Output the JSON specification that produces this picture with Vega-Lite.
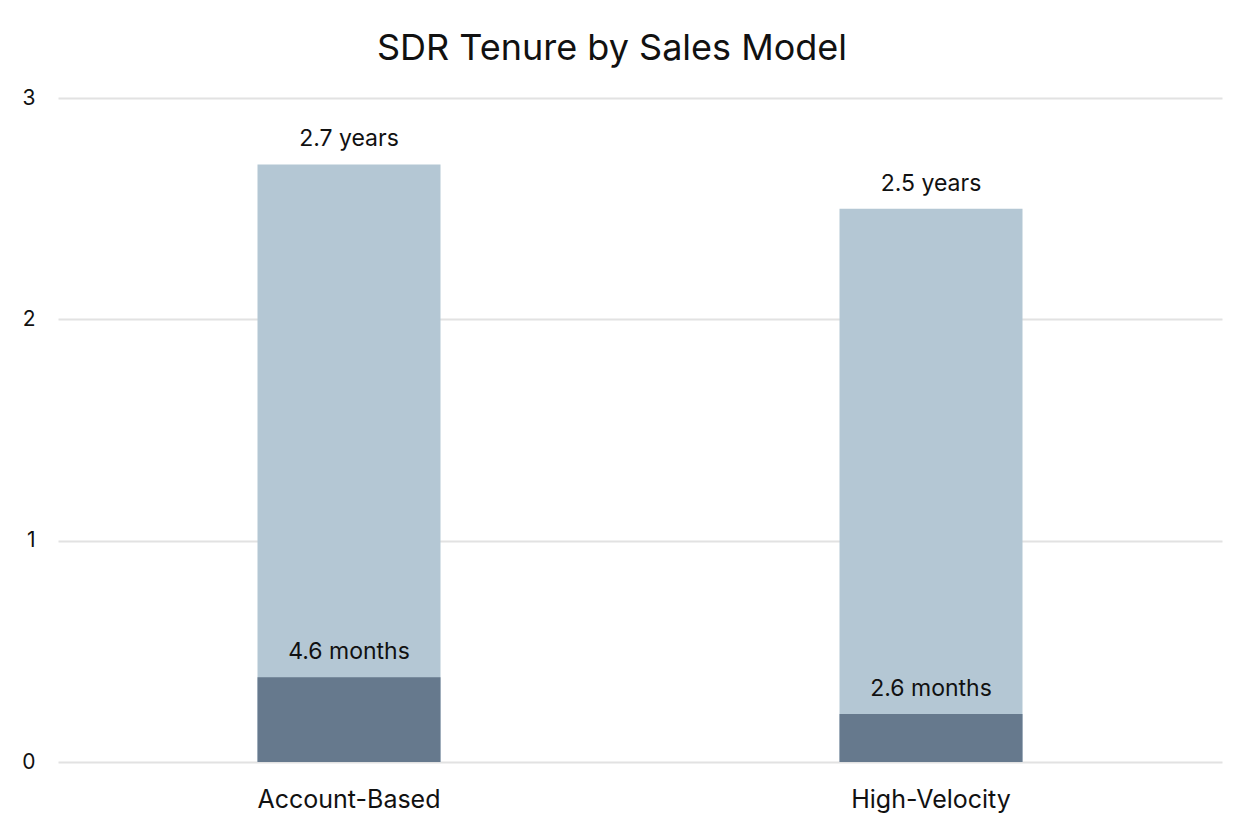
{
  "$schema": "https://vega.github.io/schema/vega-lite/v6.json",
  "autosize": {"type": "none"},
  "width": 1164,
  "height": 664,
  "padding": {"left": 58, "top": 98, "right": 28, "bottom": 68},
  "background": "white",
  "title": {
    "text": "SDR Tenure by Sales Model",
    "font": "Inter",
    "fontSize": 36,
    "fontWeight": "normal",
    "color": "#111111",
    "anchor": "middle",
    "frame": "group",
    "dx": -28,
    "offset": 19
  },
  "data": {
    "values": [
      {"model": "Account-Based", "tenure": 2.7, "tenure_label": "2.7 years", "ramp": 0.383, "ramp_label": "4.6 months"},
      {"model": "High-Velocity", "tenure": 2.5, "tenure_label": "2.5 years", "ramp": 0.217, "ramp_label": "2.6 months"}
    ]
  },
  "encoding": {
    "x": {
      "field": "model",
      "type": "nominal",
      "scale": {"paddingInner": 0, "paddingOuter": 0},
      "axis": {
        "title": null,
        "labelAngle": 0,
        "labelFont": "Inter",
        "labelFontSize": 25,
        "labelColor": "#111111",
        "labelPadding": 25,
        "labelLimit": 0,
        "domain": false,
        "ticks": false,
        "grid": false
      }
    }
  },
  "layer": [
    {
      "mark": {"type": "bar", "size": 183, "color": "#b4c7d4"},
      "encoding": {
        "y": {
          "field": "tenure",
          "type": "quantitative",
          "scale": {"domain": [0, 3]},
          "axis": {
            "title": null,
            "values": [0, 1, 2, 3],
            "format": "d",
            "labelFont": "Inter",
            "labelFontSize": 21,
            "labelColor": "#111111",
            "labelPadding": 23,
            "labelAlign": "right",
            "domain": false,
            "ticks": false,
            "grid": true,
            "gridColor": "#e2e2e2",
            "gridWidth": 2
          }
        }
      }
    },
    {
      "mark": {"type": "bar", "size": 183, "color": "#66798d"},
      "encoding": {"y": {"field": "ramp", "type": "quantitative"}}
    },
    {
      "mark": {"type": "text", "font": "Inter", "fontSize": 23, "color": "#111111", "baseline": "alphabetic", "dy": -18},
      "encoding": {
        "y": {"field": "tenure", "type": "quantitative"},
        "text": {"field": "tenure_label"}
      }
    },
    {
      "mark": {"type": "text", "font": "Inter", "fontSize": 23, "color": "#111111", "baseline": "alphabetic", "dy": -18},
      "encoding": {
        "y": {"field": "ramp", "type": "quantitative"},
        "text": {"field": "ramp_label"}
      }
    }
  ],
  "config": {"view": {"stroke": null}}
}
